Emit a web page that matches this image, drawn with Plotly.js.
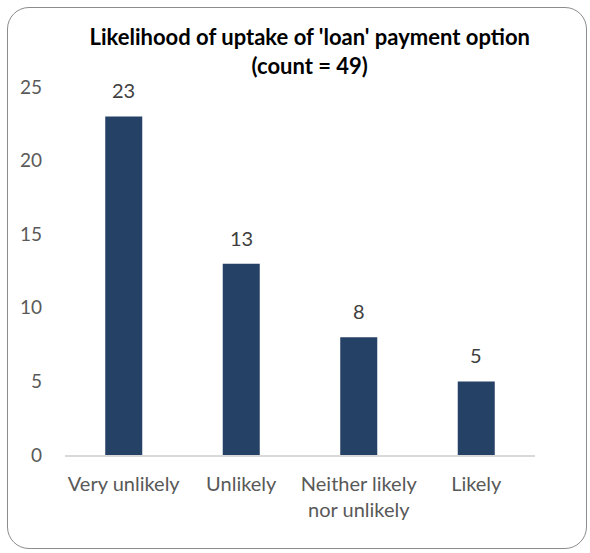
<!DOCTYPE html>
<html>
<head>
<meta charset="utf-8">
<script src="https://cdn.plot.ly/plotly-3.0.1.min.js"></script>
<style>
html,body{margin:0;padding:0;background:#fff;}
#wrap{position:relative;width:590px;height:553px;}
#frame{position:absolute;left:7px;top:7px;width:580px;height:542px;border:1px solid #8c8c8c;border-radius:22px;box-sizing:border-box;}
#chart{position:absolute;left:0;top:0;width:590px;height:553px;}
</style>
</head>
<body>
<div id="wrap"><div id="frame"></div><div id="chart"></div></div>
<script>
const categories = ["Very unlikely", "Unlikely", "Neither likely<br>nor unlikely", "Likely"];
const counts = [23, 13, 8, 5];
const yTicks = [0, 5, 10, 15, 20, 25];

const barColor = "#264166";
const font = "Lato, 'Open Sans', sans-serif";

const trace = {
  type: "bar",
  x: categories,
  y: counts,
  marker: {color: barColor, line: {width: 0}},
  hoverinfo: "x+y"
};

const annotations = categories.map((c, i) => ({
  x: c, y: counts[i], xref: "x", yref: "y",
  text: String(counts[i]), showarrow: false,
  yanchor: "bottom", yshift: 12,
  font: {family: font, size: 20, color: "#404040"}
}));

const layout = {
  width: 590, height: 553,
  paper_bgcolor: "rgba(0,0,0,0)",
  plot_bgcolor: "rgba(0,0,0,0)",
  margin: {l: 65, r: 55, t: 87, b: 98},
  bargap: 0.685,
  showlegend: false,
  title: {
    text: "<b>Likelihood of uptake of 'loan' payment option<br>(count = 49)</b>",
    font: {family: font, size: 22, color: "#000"},
    x: 0.525, xanchor: "center", y: 0.918, yanchor: "top"
  },
  xaxis: {
    type: "category",
    showline: true, linecolor: "#d9d9d9", linewidth: 1.5,
    ticks: "", showgrid: false,
    tickfont: {family: font, size: 20, color: "#595959"},
    ticklabelstandoff: 10
  },
  yaxis: {
    range: [0, 25], tickvals: yTicks,
    showline: false, showgrid: false, zeroline: false, ticks: "",
    tickfont: {family: font, size: 19, color: "#595959"},
    ticklabelstandoff: 22
  },
  annotations: annotations
};

Plotly.newPlot("chart", [trace], layout, {displayModeBar: false, staticPlot: true});
</script>
</body>
</html>
